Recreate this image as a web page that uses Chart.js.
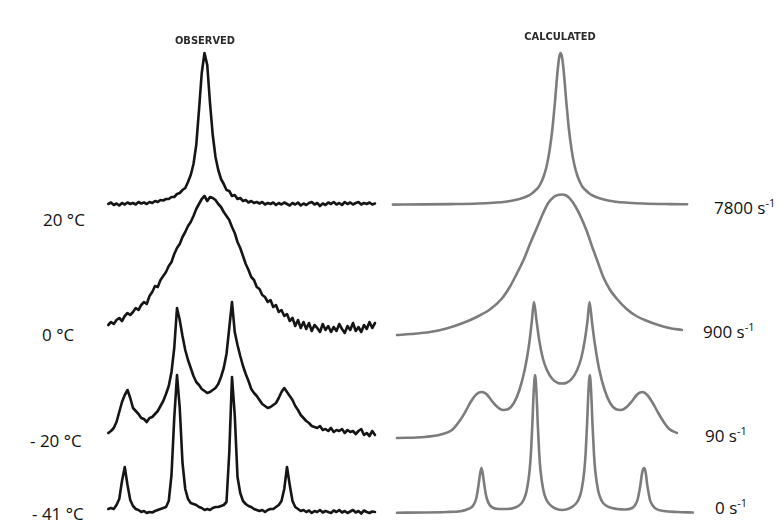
<!DOCTYPE html>
<html lang="en">
<head>
  <meta charset="UTF-8" />
  <title>Observed and calculated spectra</title>
  <script src="https://cdn.jsdelivr.net/npm/chart.js"></script>
  <style>
    body {
      margin: 0;
      background: #fff;
      font-family: 'Open Sans', sans-serif;
    }

    .stage {
      position: relative;
      width: 780px;
      height: 524px;
      overflow: hidden;
    }

    canvas {
      position: absolute;
      top: 0;
    }

    #obsChart { left: 100px; }
    #calcChart { left: 390px; }

    .head {
      position: absolute;
      font-family: 'DejaVu Sans Condensed', 'DejaVu Sans', sans-serif;
      font-weight: bold;
      font-size: 11px;
      line-height: 12px;
      color: #2a2a2a;
      transform: translateX(-50%);
      white-space: nowrap;
    }

    .lbl {
      position: absolute;
      font-size: 17px;
      line-height: 20px;
      color: #111;
      white-space: nowrap;
    }

    .lbl sup {
      font-size: 11px;
      vertical-align: 7px;
      line-height: 0;
    }
  </style>
</head>
<body>
  <div class="stage" id="stage">
    <canvas id="obsChart" width="285" height="524"></canvas>
    <canvas id="calcChart" width="310" height="524"></canvas>
  </div>

  <script>
    // frequency offset from band centre (Hz), observed traces sampled every 1 Hz
    const obsStart = -35;
    const obsEnd = 62;

    // observed intensities, one value per Hz from -35 to 62
    const obs20C = [
      1, 2.5, 0, 1.5, -0.5, 2, 0.5, 2.5, 1, 2,
      0.5, 3, 1.5, 2.5, 1, 3, 2, 4, 3, 5,
      4.5, 6, 6, 8, 8, 11, 12, 15, 17, 23,
      30, 41, 60, 95, 132, 152, 140, 102, 70, 48,
      35, 26, 21, 15, 14, 9, 10, 6, 7, 4,
      5, 2.5, 4, 2, 3, 1.5, 3, 0.5, 2, 1,
      2.5, 0, 2, 0.5, 2.5, 1, -0.5, 2, 0.5, 2.5,
      -0.5, 1.5, 0, 2, 3, 0.5, 2, -1, 1.5, 0,
      2.5, 1, 3, 0.5, 2, 0, 3, 1, 2.5, 0.5,
      2, 3, 0.5, 2, 1, 2.5, 0.5, 1.5
    ];
    const obs0C = [
      15, 18, 16, 20, 22, 19, 24, 27, 25, 28,
      32, 30, 35, 38, 36, 44, 48, 54, 53, 60,
      64, 68, 74, 78, 86, 92, 96, 103, 108, 114,
      118, 124, 131, 136, 141, 144, 139, 143, 142, 140,
      136, 133, 128, 124, 120, 113, 107, 98, 92, 84,
      76, 70, 63, 60, 53, 51, 45, 43, 38, 40,
      33, 35, 28, 30, 24, 26, 19, 22, 14, 20,
      12, 18, 11, 17, 9, 15, 12, 8, 16, 10,
      14, 8, 13, 9, 16, 11, 7, 14, 10, 17,
      9, 13, 8, 15, 11, 18, 12, 17
    ];
    const obsM20C = [
      7, 9, 12, 18, 28, 38, 45, 50, 42, 32,
      29, 26, 22, 21, 18, 22, 23, 26, 29, 34,
      39, 46, 54, 68, 92, 132, 120, 104, 90, 80,
      72, 64, 58, 55, 51, 49, 47, 48, 50, 52,
      56, 63, 72, 86, 112, 138, 108, 95, 84, 74,
      66, 59, 51, 47, 44, 40, 36, 34, 32, 33,
      35, 37, 42, 48, 52, 48, 44, 40, 34, 30,
      25, 22, 19, 17, 14, 13, 12, 14, 10, 11,
      9, 12, 8, 10, 9, 11, 7, 10, 8, 9,
      6, 9, 11, 5, 7, 4, 9, 5
    ];
    const obsM41C = [
      4, 5, 4, 8, 14, 32, 46, 28, 13, 7,
      4, 3, 1, 2, 0, 1, 0.5, 2, 3, 4,
      5, 6, 12, 38, 95, 138, 105, 50, 24, 14,
      10, 9, 8, 6, 5, 3, 4, 3, 5, 6,
      6, 7, 8, 11, 60, 136, 98, 36, 20, 12,
      9, 7, 6, 4, 3, 2, 3, 1, 3, 4,
      4, 6, 8, 12, 24, 46, 28, 12, 6, 4,
      2, 3, 1, 2.5, 0, 2, 1, 3, 0.5, 2,
      1, 0, 2.5, 1, 3, 0.5, 2, 0, 1.5, 3,
      0.5, 2, -0.5, 2.5, 1, 0, 1.5, 1
    ];

    // calculated line shapes, [Hz, intensity]
    const calc7800 = [
      [-61.5, 0.4], [-50, 0.6], [-40.5, 0.9], [-30.5, 1.5], [-25, 2.3], [-20.5, 3.3],
      [-15.5, 6], [-12.5, 9], [-10.5, 12.6], [-8.5, 18], [-7.5, 23], [-6.5, 30],
      [-5.5, 40], [-4.5, 55], [-3.5, 76], [-3, 90], [-2.5, 105], [-2, 122],
      [-1.5, 137], [-1, 148], [-0.5, 152], [0, 148], [0.5, 137], [1, 122],
      [1.5, 105], [2, 90], [2.5, 76], [3.5, 55], [4.5, 40], [5.5, 30],
      [6.5, 23], [7.5, 18], [9.5, 12.6], [11.5, 9], [14.5, 6], [19.5, 3.3],
      [24, 2.3], [29.5, 1.5], [39.5, 0.9], [45.5, 0.7]
    ];
    const calc900 = [
      [-60, 5], [-55, 6], [-48, 8], [-42, 11.5], [-36, 17], [-31, 23], [-26, 31],
      [-22, 41], [-19, 53], [-16.5, 66], [-14, 80], [-11.5, 97], [-9, 113],
      [-7, 126], [-5, 137], [-3, 143], [-1.5, 145], [0, 145.5], [1.5, 144.5],
      [3, 141], [5, 133], [7, 122], [9, 109], [11, 93], [13, 78], [15, 63],
      [17.5, 50], [20, 41], [23.5, 31], [27, 24], [31, 19], [35, 15], [39, 12],
      [43.6, 10]
    ];
    const calc90 = [
      [-60, 2], [-50, 3], [-44, 5.5], [-40, 10], [-37, 20], [-35, 29], [-33, 39],
      [-31, 46], [-29.3, 48], [-27.5, 46], [-25.5, 39], [-23.5, 33], [-21.5, 30],
      [-19.5, 31], [-17.5, 37], [-15.5, 50], [-13.5, 71], [-12, 95], [-11, 118],
      [-10.2, 138], [-9.3, 120], [-8.3, 100], [-7, 82], [-5.5, 70], [-3.5, 61],
      [-1.5, 57], [0, 56.5], [1.5, 57], [3.5, 61], [5.5, 70], [7, 82], [8.3, 100],
      [9.3, 120], [10, 138], [10.9, 118], [12, 95], [13.5, 71], [15.5, 50],
      [17.5, 37], [19.5, 31], [21.5, 30], [23.5, 33], [25.5, 39], [27.5, 46],
      [29.3, 48], [31, 45], [33, 37], [35, 27], [37, 18], [39, 11], [41.8, 7]
    ];
    const calc0 = [
      [-60, 0.3], [-50, 0.5], [-42, 1], [-37, 1.8], [-35, 3], [-34.3, 4], [-33.3, 5],
      [-32.3, 7.5], [-31.3, 13.5], [-30.8, 20], [-30.3, 29], [-29.8, 39], [-29.3, 45],
      [-28.8, 39], [-28.3, 29], [-27.8, 20], [-27.3, 14], [-26.3, 8], [-25.3, 5.5],
      [-23, 4], [-20, 4], [-17, 5.5], [-14.8, 9.5], [-13.8, 14], [-12.8, 23],
      [-11.8, 42], [-11.3, 60], [-10.8, 88], [-10.3, 121], [-9.8, 138], [-9.3, 121],
      [-8.8, 88], [-8.3, 60], [-7.8, 42], [-6.8, 23], [-5.8, 14], [-4.8, 9.5],
      [-2.8, 5], [0, 3], [3, 5], [5.1, 9.5], [6.1, 14], [7.1, 23], [8.1, 42],
      [8.6, 60], [9.1, 88], [9.6, 121], [10.1, 138], [10.6, 121], [11.1, 88],
      [11.6, 60], [12.1, 42], [13.1, 23], [14.1, 14], [15.1, 9.5], [17, 6],
      [20, 4], [23, 3.5], [25.5, 5], [26.5, 7.5], [27.5, 13.5], [28, 20],
      [28.5, 28], [29, 38], [29.5, 44], [30, 45], [30.5, 39], [31, 28],
      [31.5, 20], [32, 13], [33, 7.5], [34, 4.5], [37, 2], [42, 1], [47.6, 0.5]
    ];

    const temperatures = ['20 °C', '0 °C', '- 20 °C', '- 41 °C'];
    const rates = ['7800', '900', '90', '0'];
    const headings = ['OBSERVED', 'CALCULATED'];

    // layout: baseline of each row (chart units, 0 = bottom), label spots
    const ROW_BASE = [319, 184, 84, 11];
    const TEMP_POS = [[43, 220], [42, 335], [30, 441], [32, 514]];
    const RATE_POS = [[714, 208], [703, 332], [705, 436], [715, 508]];
    const HEAD_POS = [[205, 35], [560, 31]];

    const freqs = [];
    for (let f = obsStart; f <= obsEnd; f++) freqs.push(f);

    function obsSet(values, row) {
      return {
        data: freqs.map((f, i) => ({ x: f, y: ROW_BASE[row] + values[i] })),
        borderColor: '#151515',
        borderWidth: 2.6,
        tension: 0,
        borderJoinStyle: 'round',
        borderCapStyle: 'round'
      };
    }

    function calcSet(points, row) {
      return {
        data: points.map(p => ({ x: p[0], y: ROW_BASE[row] + p[1] })),
        borderColor: '#7c7c7c',
        borderWidth: 2.6,
        cubicInterpolationMode: 'monotone',
        borderJoinStyle: 'round',
        borderCapStyle: 'round'
      };
    }

    function makeChart(id, xmin, xmax, datasets) {
      return new Chart(document.getElementById(id), {
        type: 'line',
        data: { datasets },
        options: {
          responsive: false,
          animation: false,
          events: [],
          layout: { padding: 0 },
          elements: { point: { radius: 0 } },
          plugins: { legend: { display: false }, tooltip: { enabled: false } },
          scales: {
            x: { type: 'linear', min: xmin, max: xmax, display: false },
            y: { min: 0, max: 524, display: false }
          }
        }
      });
    }

    // 2.75 px per Hz; left band centre at x=204.5, right at x=562
    makeChart('obsChart', -38, 65.64, [
      obsSet(obs20C, 0), obsSet(obs0C, 1), obsSet(obsM20C, 2), obsSet(obsM41C, 3)
    ]);
    makeChart('calcChart', -62.55, 50.18, [
      calcSet(calc7800, 0), calcSet(calc900, 1), calcSet(calc90, 2), calcSet(calc0, 3)
    ]);

    // text
    const stage = document.getElementById('stage');
    function addText(cls, html, x, y) {
      const d = document.createElement('div');
      d.className = cls;
      d.innerHTML = html;
      d.style.left = x + 'px';
      d.style.top = y + 'px';
      stage.appendChild(d);
    }
    headings.forEach((h, i) => addText('head', h, HEAD_POS[i][0], HEAD_POS[i][1]));
    temperatures.forEach((t, i) => addText('lbl', t, TEMP_POS[i][0], TEMP_POS[i][1] - 10));
    rates.forEach((r, i) => addText('lbl', r + ' s<sup>-1</sup>', RATE_POS[i][0], RATE_POS[i][1] - 10));
  </script>
</body>
</html>
